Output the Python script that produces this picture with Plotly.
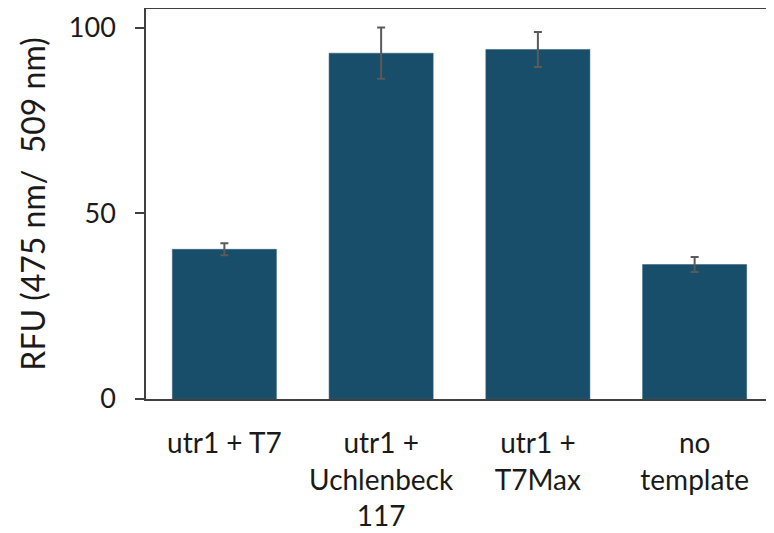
import plotly.graph_objects as go

categories = ["utr1 + T7", "utr1 +<br>Uchlenbeck<br>117", "utr1 +<br>T7Max", "no<br>template"]
values = [40.3, 93.1, 94.1, 36.2]
errors = [1.6, 6.9, 4.7, 2.0]
y_ticks = [0, 50, 100]

FONT = "Lato"

fig = go.Figure(
    go.Bar(
        x=categories,
        y=values,
        marker=dict(color="#184e6a", line=dict(color="#2a5d78", width=0.5)),
        error_y=dict(type="data", array=errors, visible=True, color="#5a5a5a", thickness=2, width=4),
        width=0.664,
    )
)

# page body has an 8px default margin, so the figure is sized to fit the window
fig.update_layout(
    width=766,
    height=525,
    margin=dict(l=138, r=1, t=1, b=134, autoexpand=False),
    paper_bgcolor="white",
    plot_bgcolor="white",
    showlegend=False,
    font=dict(family=FONT, size=27, color="#1a1a1a"),
)

fig.update_xaxes(
    showline=True, linecolor="#404040", linewidth=1.5, mirror=True,
    ticks="", showgrid=False, automargin=False,
    tickfont=dict(family=FONT, size=28, color="#1a1a1a"),
    ticklabelstandoff=19,
)
fig.update_yaxes(
    range=[0, 105], tickvals=y_ticks,
    showline=True, linecolor="#404040", linewidth=1.5, mirror=True,
    ticks="outside", ticklen=9, tickcolor="#404040", tickwidth=1.5,
    showgrid=False, zeroline=False, automargin=False,
    tickfont=dict(family=FONT, size=27, color="#1a1a1a"),
    ticklabelstandoff=14,
    title=dict(text="RFU (475 nm/\u00a0 509 nm)", font=dict(family=FONT, size=32, color="#1a1a1a"), standoff=14),
)

fig.write_html("out.html")
